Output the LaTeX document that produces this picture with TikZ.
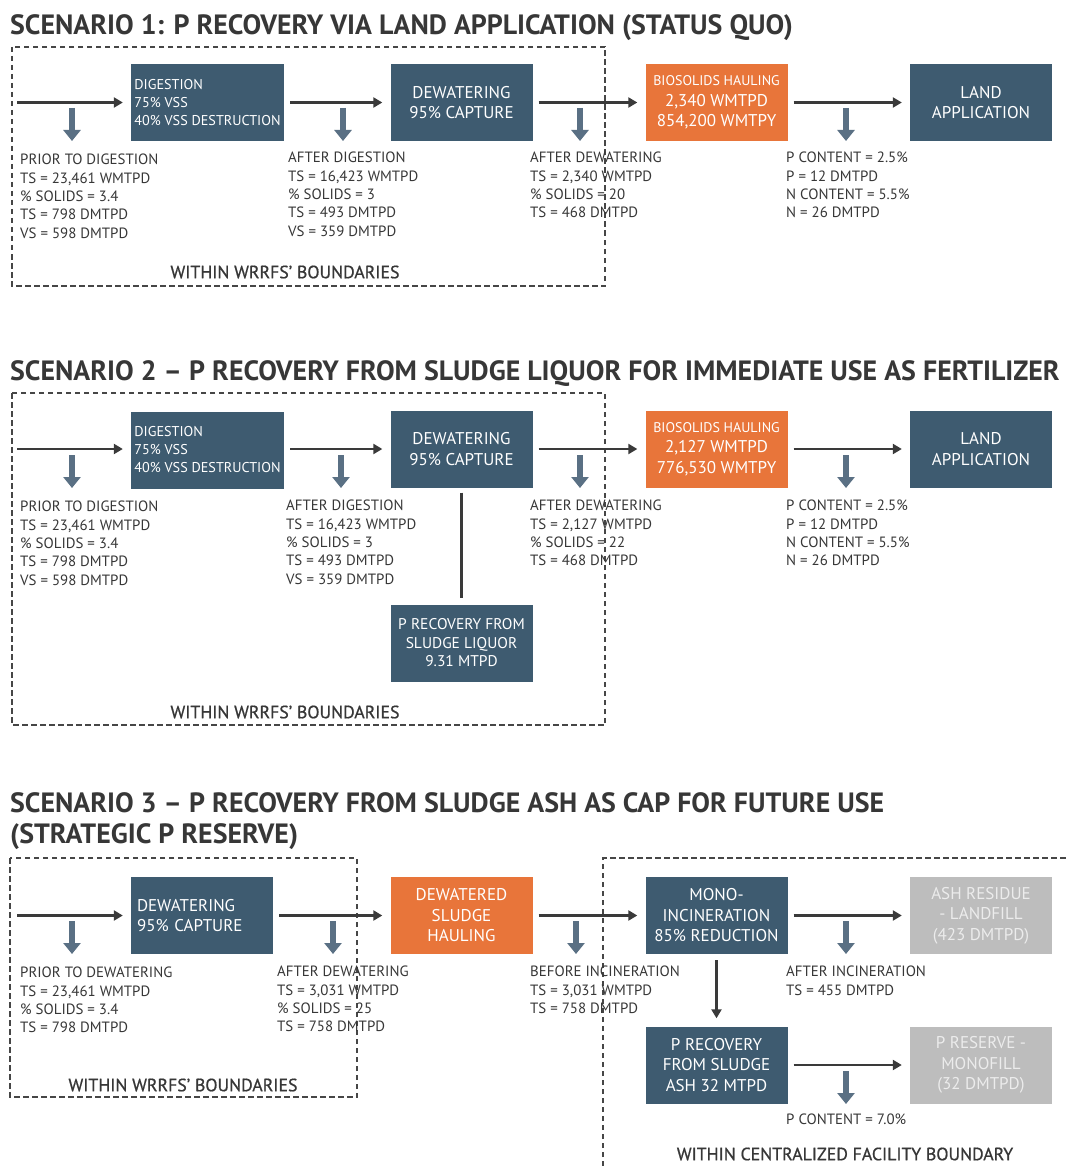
\documentclass[tikz,border=0pt]{standalone}
\usepackage{fontspec}
\setmainfont{PT Sans}
\newfontfamily\semibnd{PT Sans}[FakeBold=0.8]
\usetikzlibrary{arrows.meta}
\definecolor{boxblue}{RGB}{62,91,112}
\definecolor{boxorange}{RGB}{232,117,58}
\definecolor{boxgrey}{RGB}{189,189,189}
\definecolor{greytext}{RGB}{236,236,236}
\definecolor{dropblue}{RGB}{90,112,132}
\definecolor{flowgray}{RGB}{58,58,58}
\definecolor{txt}{RGB}{55,55,55}
\definecolor{bndgray}{RGB}{70,70,70}
\newcommand{\infofont}{\fontsize{14.9}{18.3}\selectfont}
\newcommand{\boxfont}{\fontsize{17}{20.5}\selectfont}
\newcommand{\digfont}{\fontsize{14.2}{18}\selectfont}
\newcommand{\titlefont}{\fontsize{27.9}{32}\selectfont\bfseries}
\newcommand{\bndfont}{\fontsize{17.8}{21}\selectfont\semibnd}
\begin{document}
\begin{tikzpicture}[x=1pt,y=-1pt,
  pbox/.style={fill=boxblue, text=white, minimum width=142pt, minimum height=77pt, inner sep=0pt, align=center, font=\boxfont},
  digbox/.style={pbox, minimum width=153pt, align=left, font=\digfont},
  obox/.style={pbox, fill=boxorange},
  gbox/.style={pbox, fill=boxgrey, text=greytext},
  flow/.style={draw=flowgray, line width=2.5pt, -{Triangle[width=10pt,length=9pt]}, shorten >=8pt, shorten <=6pt},
  flowline/.style={draw=flowgray, line width=2.5pt},
  drop/.style={draw=dropblue, line width=6pt, -{Triangle[width=17pt,length=11pt]}},
  info/.style={anchor=north west, align=left, inner sep=0pt, font=\infofont, text=txt},
  bnd/.style={draw=bndgray, line width=1.3pt, dash pattern=on 5.5pt off 3.5pt},
  bndlabel/.style={inner sep=0pt, font=\bndfont, text=txt},
  ttl/.style={anchor=base west, inner sep=0pt, font=\titlefont, text=txt}
]
\useasboundingbox[fill=white] (0,0) rectangle (1068,1166);

% ================= SCENARIO 1 =================
\node[ttl] (t1) at (10,35) {SCENARIO 1: P RECOVERY VIA LAND APPLICATION (STATUS QUO)};
\draw[bnd] (12,47) rectangle (605,286);
\node[digbox] (dig1) at (207.5,102.5) {DIGESTION\\75\% VSS\\40\% VSS DESTRUCTION};
\node[pbox] (dew1) at (461.5,102.5) {DEWATERING\\95\% CAPTURE};
\node[obox] (bio1) at (716.5,102.5) {{\fontsize{14}{18}\selectfont BIOSOLIDS HAULING}\\2,340 WMTPD\\854,200 WMTPY};
\node[pbox] (land1) at (981,102.5) {LAND\\APPLICATION};
\coordinate (in1) at (17,102.5);
\draw[flow, shorten <=0pt] (in1) -- (dig1.west);
\draw[flow] (dig1) -- (dew1);
\draw[flow] (dew1) -- (bio1);
\draw[flow] (bio1) -- (land1);
\foreach \x in {72,343,580,846} \draw[drop] (\x,108) -- (\x,141);
\node[info] (i11) at (20,154) {PRIOR TO DIGESTION\\TS = 23,461 WMTPD\\\% SOLIDS = 3.4\\TS = 798 DMTPD\\VS = 598 DMTPD};
\node[info] (i12) at (288,152) {AFTER DIGESTION\\TS = 16,423 WMTPD\\\% SOLIDS = 3\\TS = 493 DMTPD\\VS = 359 DMTPD};
\node[info] (i13) at (530,152) {AFTER DEWATERING\\TS = 2,340 WMTPD\\\% SOLIDS = 20\\TS = 468 DMTPD};
\node[info] (i14) at (786,152) {P CONTENT = 2.5\%\\P = 12 DMTPD\\N CONTENT = 5.5\%\\N = 26 DMTPD};
\node[bndlabel] (b1) at (285,272) {WITHIN WRRFS’ BOUNDARIES};

% ================= SCENARIO 2 =================
\node[ttl] (t2) at (10,380) {SCENARIO 2 – P RECOVERY FROM SLUDGE LIQUOR FOR IMMEDIATE USE AS FERTILIZER};
\draw[bnd] (12,393) rectangle (605,725);
\node[digbox] (dig2) at (207.5,450) {DIGESTION\\75\% VSS\\40\% VSS DESTRUCTION};
\node[pbox] (dew2) at (461.5,449) {DEWATERING\\95\% CAPTURE};
\node[obox] (bio2) at (716.5,449) {{\fontsize{14}{18}\selectfont BIOSOLIDS HAULING}\\2,127 WMTPD\\776,530 WMTPY};
\node[pbox] (land2) at (981,449) {LAND\\APPLICATION};
\node[pbox, font=\fontsize{15.5}{18.5}\selectfont] (prec2) at (461.5,643) {P RECOVERY FROM\\SLUDGE LIQUOR\\9.31 MTPD};
\coordinate (in2) at (17,449);
\draw[flow, shorten <=0pt] (in2) -- (dig2.west |- in2);
\draw[flow] (dig2.east |- dew2) -- (dew2);
\draw[flow] (dew2) -- (bio2);
\draw[flow] (bio2) -- (land2);
\draw[flowline, shorten <=5pt, shorten >=6pt] (dew2) -- (prec2);
\foreach \x in {72,341,580,846} \draw[drop] (\x,455) -- (\x,488);
\node[info] (i21) at (20,501) {PRIOR TO DIGESTION\\TS = 23,461 WMTPD\\\% SOLIDS = 3.4\\TS = 798 DMTPD\\VS = 598 DMTPD};
\node[info] (i22) at (286,500) {AFTER DIGESTION\\TS = 16,423 WMTPD\\\% SOLIDS = 3\\TS = 493 DMTPD\\VS = 359 DMTPD};
\node[info] (i23) at (530,500) {AFTER DEWATERING\\TS = 2,127 WMTPD\\\% SOLIDS = 22\\TS = 468 DMTPD};
\node[info] (i24) at (786,500) {P CONTENT = 2.5\%\\P = 12 DMTPD\\N CONTENT = 5.5\%\\N = 26 DMTPD};
\node[bndlabel] (b2) at (285,712) {WITHIN WRRFS’ BOUNDARIES};

% ================= SCENARIO 3 =================
\node[ttl] (t3a) at (10,812) {SCENARIO 3 – P RECOVERY FROM SLUDGE ASH AS CAP FOR FUTURE USE};
\node[ttl] (t3b) at (10,843) {(STRATEGIC P RESERVE)};
\draw[bnd] (10,858) rectangle (357,1097);
\draw[bnd] (603,1166) -- (603,858) -- (1068,858);
\node[pbox, text width=130pt, align=left, inner xsep=6pt, minimum width=142pt] (dew3) at (202,915.5) {DEWATERING\\95\% CAPTURE};
\node[obox] (haul3) at (461.5,915.5) {DEWATERED\\SLUDGE\\HAULING};
\node[pbox] (mono3) at (716.5,915.5) {MONO-\\INCINERATION\\85\% REDUCTION};
\node[gbox] (ash3) at (981,915.5) {ASH RESIDUE\\- LANDFILL\\(423 DMTPD)};
\node[pbox] (prec3) at (716.5,1065) {P RECOVERY\\FROM SLUDGE\\ASH 32 MTPD};
\node[gbox] (res3) at (981,1065) {P RESERVE -\\MONOFILL\\(32 DMTPD)};
\coordinate (in3) at (17,915.5);
\draw[flow, shorten <=0pt] (in3) -- (dew3.west);
\draw[flow] (dew3) -- (haul3);
\draw[flow] (haul3) -- (mono3);
\draw[flow] (mono3) -- (ash3);
\draw[flow] (mono3) -- (prec3);
\draw[flow] (prec3) -- (res3);
\foreach \x in {72,333,576,846} \draw[drop] (\x,921) -- (\x,954);
\draw[drop] (846,1071) -- (846,1104);
\node[info] (i31) at (20,967) {PRIOR TO DEWATERING\\TS = 23,461 WMTPD\\\% SOLIDS = 3.4\\TS = 798 DMTPD};
\node[info] (i32) at (277,966) {AFTER DEWATERING\\TS = 3,031 WMTPD\\\% SOLIDS = 25\\TS = 758 DMTPD};
\node[info] (i33) at (530,966) {BEFORE INCINERATION\\TS = 3,031 WMTPD\\TS = 758 DMTPD};
\node[info] (i34) at (786,966) {AFTER INCINERATION\\TS = 455 DMTPD};
\node[info] (i35) at (786,1114) {P CONTENT = 7.0\%};
\node[bndlabel] (b3) at (183,1085) {WITHIN WRRFS’ BOUNDARIES};
\node[bndlabel] (b4) at (845,1154) {WITHIN CENTRALIZED FACILITY BOUNDARY};
\end{tikzpicture}
\end{document}
